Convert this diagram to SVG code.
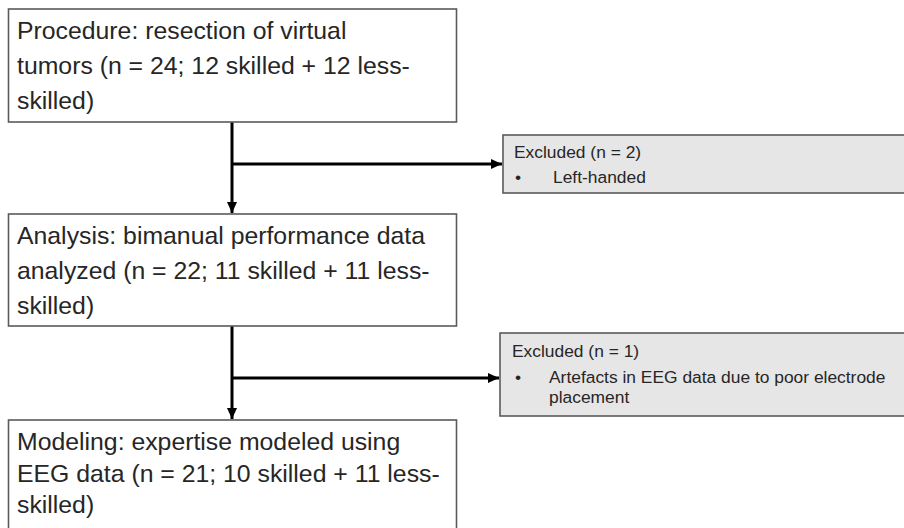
<svg xmlns="http://www.w3.org/2000/svg" width="904" height="528" viewBox="0 0 904 528">
<style>
.box{fill:#ffffff;stroke:#5a5a5a;stroke-width:1.6}
.exc{fill:#e6e6e6;stroke:#5a5a5a;stroke-width:1.6}
.big{font-family:"Liberation Sans",Arial,sans-serif;font-size:24.8px;fill:#262626}
.small{font-family:"Liberation Sans",Arial,sans-serif;font-size:17.4px;fill:#262626}
.conn{fill:none;stroke:#000;stroke-width:3}
</style>
<defs>
<marker id="arr" markerUnits="userSpaceOnUse" markerWidth="12" markerHeight="12" viewBox="0 0 12 12" refX="11" refY="6" orient="auto">
<path d="M0,1 L11,6 L0,11 Z" fill="#000"/>
</marker>
</defs>
<g id="connectors">
<line class="conn" x1="232" y1="122" x2="232" y2="213" marker-end="url(#arr)"/>
<line class="conn" x1="232" y1="164" x2="502" y2="164" marker-end="url(#arr)"/>
<line class="conn" x1="232" y1="326" x2="232" y2="419" marker-end="url(#arr)"/>
<line class="conn" x1="232" y1="378" x2="499" y2="378" marker-end="url(#arr)"/>
</g>
<g id="procedure">
<rect class="box" x="8.5" y="9" width="448" height="113"/>
<text class="big" x="17" y="39">Procedure: resection of virtual</text>
<text class="big" x="17" y="74">tumors (n = 24; 12 skilled + 12 less-</text>
<text class="big" x="17" y="109">skilled)</text>
</g>
<g id="excluded1">
<rect class="exc" x="503" y="135" width="410" height="58"/>
<text class="small" x="514" y="158">Excluded (n = 2)</text>
<text class="small" x="515" y="183">•</text>
<text class="small" x="553" y="183">Left-handed</text>
</g>
<g id="analysis">
<rect class="box" x="8.5" y="214" width="448" height="112"/>
<text class="big" x="17" y="244">Analysis: bimanual performance data</text>
<text class="big" x="17" y="279">analyzed (n = 22; 11 skilled + 11 less-</text>
<text class="big" x="17" y="314">skilled)</text>
</g>
<g id="excluded2">
<rect class="exc" x="500" y="333" width="413" height="83"/>
<text class="small" x="512" y="357">Excluded (n = 1)</text>
<text class="small" x="515" y="383">•</text>
<text class="small" x="549" y="383">Artefacts in EEG data due to poor electrode</text>
<text class="small" x="549" y="403">placement</text>
</g>
<g id="modeling">
<rect class="box" x="8.5" y="420" width="448" height="120"/>
<text class="big" x="17" y="450">Modeling: expertise modeled using</text>
<text class="big" x="17" y="482">EEG data (n = 21; 10 skilled + 11 less-</text>
<text class="big" x="17" y="513">skilled)</text>
</g>
</svg>
